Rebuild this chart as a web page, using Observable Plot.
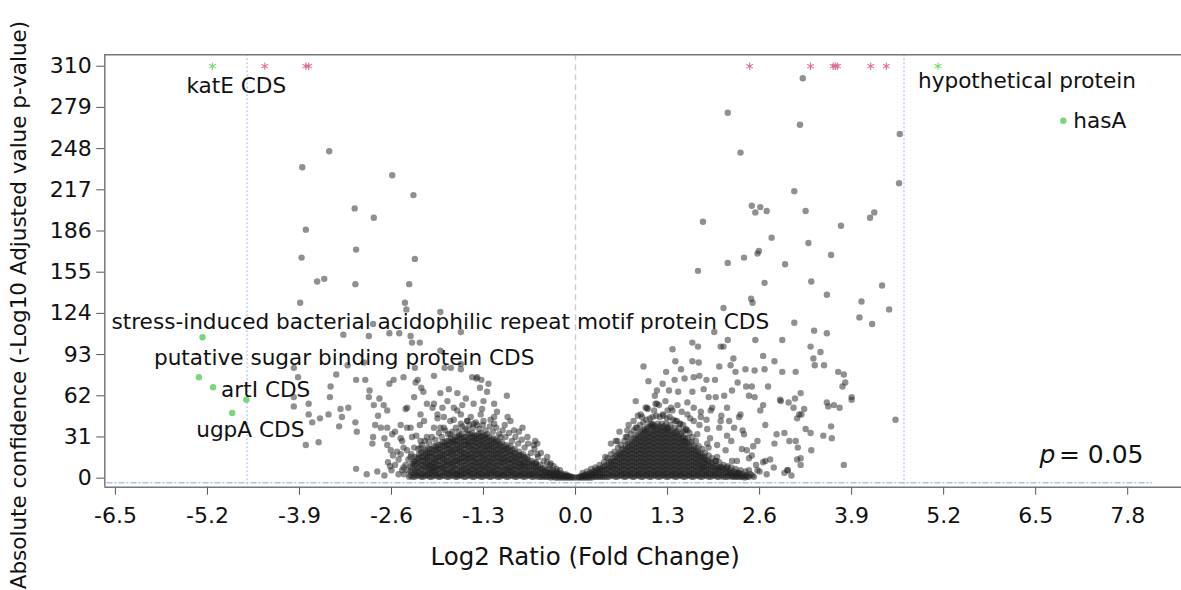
<!DOCTYPE html>
<html><head><meta charset="utf-8">
<script src="https://cdn.jsdelivr.net/npm/d3@7"></script>
<script src="https://cdn.jsdelivr.net/npm/@observablehq/plot@0.6"></script>
<style>body{margin:0;background:#fff}</style>
</head><body><div id="chart"></div>
<script>
const xTicks = [-6.5,-5.2,-3.9,-2.6,-1.3,0,1.3,2.6,3.9,5.2,6.5,7.8];
const yTicks = [0,31,62,93,124,155,186,217,248,279,310];
const xDomain = [-6.65, 8.56];
const yDomain = [-6.8, 318.6];
const foldThreshold = 4.64;
const pLine = -3.5;
const capValue = 310;
const xTitle = "Log2 Ratio (Fold Change)";
const yTitle = "Absolute confidence (-Log10 Adjusted value p-value)";

// capped (off-scale) genes, drawn as asterisks at the cap
const cappedX = [-4.39,-3.81,-3.77,2.46,3.32,3.64,3.67,3.70,4.17,4.39];

// highlighted genes
const geneNames = ["katE CDS","hypothetical protein","hasA",
  "stress-induced bacterial acidophilic repeat motif protein CDS",
  "putative sugar binding protein CDS","artI CDS","","ugpA CDS"];
const geneLfc  = [-5.13, 5.12, 6.89, -5.27, -5.32, -5.12, -4.65, -4.85];
const geneConf = [310, 310, 269, 106, 76, 68.5, 59, 49];
const geneCapped = [true, true, false, false, false, false, false, false];

// scattered genes [log2 ratio, confidence]
const scatterDown = [
[-3.48,246],[-3.86,234],[-2.59,228],[-2.29,213],[-3.12,203],[-2.85,196],[-3.81,187],[-3.87,166],[-3.10,172],[-2.27,165],[-3.65,148],[-3.55,150],[-3.11,146],[-2.35,146],
[-3.89,132],[-2.41,132],[-2.39,127],[-1.91,125],[-3.28,108],[-2.92,107],[-2.63,109],[-2.49,109],[-2.33,107],[-2.31,102],[-2.20,102],[-1.62,110],[-2.86,116],[-2.99,87],[-1.91,96],
[-3.98,83],[-3.92,76],[-3.38,78],[-3.22,85],[-3.10,74],[-2.97,74],[-2.91,66],[-3.46,69],[-3.47,61],[-2.57,74],[-2.63,71],[-2.43,76],[-2.27,83],[-2.23,74],[-2.18,68],[-2.15,65],[-2.00,77],[-1.85,83],[-1.76,83],[-1.62,86],[-1.46,76],[-1.40,75],[-1.33,74],[-1.23,71],[-1.35,68],[-1.25,65],[-0.97,62],[-1.79,67],[-1.91,64],[-1.67,64],[-1.55,60],[-3.98,61],[-2.92,61],[-2.26,72],[-2.28,61],[-2.40,52],[-1.62,82],[-1.39,76],
[-3.98,54],[-3.77,56],[-3.77,48],[-3.61,45],[-3.49,48],[-3.32,52],[-3.21,53],[-3.30,46],[-3.34,39],[-3.11,42],[-3.09,35],[-3.81,25],[-3.63,27],[-3.72,42],
[-2.85,55],[-2.77,60],[-2.71,55],[-2.79,47],[-2.66,51],[-2.83,40],[-2.75,38],[-2.66,38],[-2.86,31],[-2.87,26],[-2.59,33],[-2.47,40],[-2.47,30],[-2.38,38],[-2.43,23],[-2.31,31],[-2.28,23],[-2.14,43],[-2.10,56],[-2.02,53],[-1.95,48],[-1.88,53],[-1.81,58],[-1.72,53],[-1.44,56],[-1.32,52],[-1.15,56],[-1.11,50],[-0.92,43],[-0.75,38],[-1.15,46],[-1.30,43],[-1.44,41],[-1.62,48],[-1.53,43],[-1.77,43],[-1.86,38],[-2.00,38],[-2.10,31],[-2.19,23],[-2.10,16],[-2.00,8],[-2.33,16],[-1.67,3],[-2.47,18],[-2.61,21],[-2.66,25],[-0.59,25],[-0.35,11],[-0.54,18],[-0.57,28],
[-2.38,53],[-2.19,48],[-2.00,56],[-1.86,46],[-1.67,51],[-1.53,43],[-1.34,48],[-1.15,41],[-0.96,46],[-0.87,36],[-0.68,31],[-0.54,26],[-0.40,16],[-2.33,38],[-2.19,28],[-2.38,21],[-2.28,13],[-2.43,8],[-2.05,8],[-1.77,33],[-1.53,36],[-1.25,33],[-1.06,31],[-1.91,38],[-1.62,41],[-1.39,40],
[-2.50,3],[-2.60,6],[-2.70,2],[-2.80,5],[-2.95,3],[-3.10,7],[-2.55,10],[-2.65,12],[-2.45,6],
[-2.36,14],[-2.32,18],[-2.27,16],[-2.22,22],[-2.17,25],[-2.13,28],[-2.07,27],[-2.03,31],[-1.98,29],[-1.93,34],[-1.89,31],[-1.84,36],[-1.80,33],[-1.74,35],[-1.69,38],[-1.65,35],[-1.60,39],[-1.56,37],[-1.50,40],[-1.45,38],[-1.41,42],[-1.36,37],[-1.31,40],[-1.27,36],[-1.21,39],[-1.17,35],[-1.12,38],[-1.08,33],[-1.03,36],[-0.99,31],[-0.94,34],[-0.90,28],[-0.85,31],[-0.81,26],[-0.76,29],[-0.72,23],[-0.67,26],[-0.63,19],[-0.58,22],[-0.53,16],[-0.49,19],[-0.45,13],[-0.40,12],[-0.36,10],[-0.31,9],[-0.27,7],[-0.22,6],
[-2.40,10],[-2.42,3],[-2.37,6],[-2.35,1],[-2.50,14],[-2.58,17],[-2.52,20],[-2.62,9],
[-1.95,45],[-1.72,44],[-1.48,46],[-1.20,44],[-1.00,40],[-0.80,35],[-2.25,32],[-2.45,28],[-2.55,35],[-2.70,30],[-2.20,40],[-1.60,55],[-1.30,58]
];
const scatterUp = [
[3.21,301],[2.15,275],[3.17,266],[4.58,259],[2.33,245],[4.57,222],[3.09,216],[2.49,205],[2.61,204],[2.54,200],[2.70,201],[3.25,201],[1.80,193],[4.22,200],[4.16,196],[3.75,190],[2.77,181],[3.29,177],[2.59,171],[2.57,169],[3.61,168],[2.15,162],[2.38,166],[2.96,161],[1.73,156],[2.67,147],[3.33,148],[4.33,145],
[3.55,138],[4.04,133],[4.43,127],[4.01,121],[4.19,116],[3.37,111],[3.55,109],[3.32,99],[3.46,95],[3.36,90],[3.38,85],[3.51,85],[3.71,80],[3.79,78],[3.81,72],[3.77,69],[3.90,61],[3.90,59],[3.18,64],[3.23,52],[3.19,48],[3.55,57],[3.57,54],[3.65,55],[3.73,53],[4.52,44],[3.25,37],[3.32,34],[3.61,39],[3.50,32],[3.62,30],[3.33,21],[3.79,10],[3.18,15],[3.18,10],
[3.09,117],[2.48,135],[2.50,132],[2.09,128],[2.54,104],[2.15,104],[2.05,99],[2.09,99],[1.65,102],[1.73,99],[1.37,97],[2.23,90],[2.65,92],[2.81,88],[1.96,110],[2.92,104],[3.11,80],[2.90,58],[3.01,57],[3.11,28],[2.99,6],
[0.96,84],[1.28,80],[1.41,88],[1.49,82],[1.65,88],[1.74,87],[2.03,84],[2.19,85],[2.26,80],[2.40,82],[2.53,81],[2.67,82],[2.92,80],[1.03,73],[1.15,66],[1.23,71],[1.40,74],[1.54,75],[1.67,76],[1.75,77],[1.85,74],[1.97,74],[2.29,72],[2.41,69],[2.49,69],[2.72,69],[2.21,66],[2.45,62],[2.53,61],[2.65,55],[2.89,59],[3.10,60],[2.61,51],[3.08,53],[3.16,48],[3.13,45],[2.68,40],[2.84,33],[2.95,34],[3.02,28],[3.14,23],[3.13,14],[3.00,6],[2.81,26],[2.68,13],[2.57,6],[2.31,4],[2.49,17],[2.57,28],[2.51,24],[2.36,36],[2.14,32],[2.03,38],[2.31,46],[2.17,43],[2.06,47],[1.93,53],[2.10,62],[1.98,61],[1.81,67],[1.88,61],[1.65,65],[1.58,57],[1.77,50],[1.67,43],[1.86,37],[1.55,36],[1.41,43],[1.37,51],[1.23,48],[1.08,41],[0.94,46],[0.85,38],[0.71,31],[0.57,28],[0.42,16],[0.99,53],[1.13,56],[1.27,58],[1.32,66],[1.98,13],[2.12,21],[1.88,23],[2.21,13],[1.79,8],[2.07,8],
[1.01,53],[1.15,56],[1.30,51],[1.44,55],[1.58,48],[1.67,53],[1.77,46],[1.91,51],[2.05,43],[2.14,53],[2.24,38],[2.33,48],[2.38,33],[2.42,21],[2.28,13],[2.14,8],[2.00,16],[1.86,26],[1.72,33],[1.58,36],[0.82,43],[0.73,36],[0.59,28],[0.92,48],[1.06,41],[1.30,38],[1.48,41],[1.11,51],
[2.50,2],[2.60,5],[2.70,3],[2.80,8],[2.95,4],[3.05,2],[2.55,10],[2.65,12],[2.45,6],[2.75,14],
[0.10,4],[0.16,5],[0.22,7],[0.28,8],[0.34,10],[0.40,12],[0.45,15],[0.50,18],[0.55,20],[0.60,23],[0.64,25],[0.69,28],[0.73,31],[0.78,33],[0.82,36],[0.87,38],[0.91,40],[0.96,42],[1.00,44],[1.05,45],[1.09,46],[1.14,47],[1.19,46],[1.24,47],[1.29,45],[1.33,46],[1.38,44],[1.43,43],[1.47,41],[1.52,40],[1.56,37],[1.61,34],[1.65,31],[1.70,28],[1.74,24],[1.79,22],[1.83,19],[1.88,17],[1.93,15],[1.98,13],[2.03,12],[2.09,10],[2.15,9],[2.20,8],[2.26,7],[2.33,6],[2.40,5],[2.47,3],[2.52,1],
[0.75,40],[0.88,47],[1.02,52],[1.18,55],[1.35,53],[1.50,50],[1.62,45],[1.75,40],[1.90,30],[2.00,25],[0.62,35],[0.50,26],[1.12,62],[1.45,65],[0.85,58],[1.55,28],[1.85,44],[2.20,28],[2.35,22],[2.45,15]
];

// dense core of the volcano, column by column: [log2 ratio, [confidences]]
const coreDown = [
[-2.30,[1,4,8,11]],[-2.24,[2,5,7,11,15]],[-2.18,[1,3,7,10,13,16,19]],[-2.12,[2,5,9,11,14,18,21]],
[-2.06,[1,4,6,10,13,17,19,22]],[-2.00,[2,5,8,12,14,17,21,24]],[-1.94,[1,3,7,10,13,16,20,22,25]],
[-1.88,[2,5,8,11,15,17,20,24,27]],[-1.82,[1,4,6,10,13,16,19,23,25,28]],[-1.76,[2,5,8,11,14,18,20,23,27,30]],
[-1.70,[1,3,7,10,13,16,19,22,26,28,31]],[-1.64,[2,5,8,12,14,17,21,23,26,30,32]],[-1.58,[1,4,7,9,13,16,19,22,25,28,31]],
[-1.52,[2,5,8,11,15,17,20,24,26,29,33]],[-1.46,[1,3,7,10,13,16,19,22,25,28,31,34]],[-1.40,[2,5,8,11,14,18,20,23,27,29,32]],
[-1.34,[1,4,7,10,12,16,19,22,25,28,31,34]],[-1.28,[2,5,8,11,14,17,21,23,26,30,32]],[-1.22,[1,4,6,10,13,16,19,22,25,28,31]],
[-1.16,[2,5,8,11,15,17,20,23,27,30]],[-1.10,[1,3,7,10,13,16,19,22,25,28]],[-1.04,[2,5,8,12,14,17,21,23,27]],
[-0.98,[1,4,7,9,13,16,19,22,25]],[-0.92,[2,5,8,11,14,18,20,24]],[-0.86,[1,3,7,10,13,16,19,22]],
[-0.80,[2,5,8,11,14,17,20]],[-0.74,[1,4,7,10,12,16,18]],[-0.68,[2,5,8,11,14,16]],[-0.62,[1,3,6,10,13]],
[-0.56,[2,5,8,11,12]],[-0.50,[1,4,7,10]],[-0.44,[1,3,5,8]],[-0.38,[1,3,4,7]],[-0.32,[1,2,4,6]],
[-0.26,[0.5,2,4,5]],[-0.20,[0.5,2,3.5]],[-0.14,[0.5,1.5,3]],[-0.08,[0.5,1.5]],[-0.02,[0.5]]
];
const coreDown2 = [
[-2.33,[2,5,9]],[-2.27,[1,3,6,10,12]],[-2.21,[2,4,8,12,15,18]],[-2.15,[1,3,6,9,13,16,20]],
[-2.09,[2,3,7,9,12,15,19,23]],[-2.03,[1,3,6,10,12,16,19,22]],[-1.97,[2,4,6,9,12,15,18,21,24]],
[-1.91,[1,3,7,9,13,16,18,22,25]],[-1.85,[2,4,7,9,12,14,18,21,24,27]],[-1.79,[1,3,6,10,12,16,19,22,25,28]],
[-1.73,[2,4,6,9,12,15,18,21,24,27,29]],[-1.67,[1,3,6,10,13,15,19,22,25,28,31]],[-1.61,[2,3,6,9,12,15,18,20,24,27,30,33]],
[-1.55,[1,4,6,10,13,15,18,22,25,28,31]],[-1.49,[2,4,6,9,12,15,18,21,24,27,30,33]],[-1.43,[1,4,6,9,12,15,17,21,24,27,30,32]],
[-1.37,[2,3,6,9,12,15,18,21,24,26,30,33]],[-1.31,[1,3,6,9,13,15,18,20,24,27,29,32]],[-1.25,[2,3,7,9,12,15,18,21,24,27,30]],
[-1.19,[1,4,6,9,12,14,18,21,24,26,29]],[-1.13,[2,4,6,9,12,15,18,21,24,27,29]],[-1.07,[1,3,6,9,12,15,18,20,24,26]],
[-1.01,[2,3,6,10,12,15,18,21,24]],[-0.95,[1,3,6,8,12,14,17,21,23]],[-0.89,[2,4,6,9,12,15,17,21]],
[-0.83,[1,3,6,9,12,15,18]],[-0.77,[2,3,6,9,11,14,17]],[-0.71,[1,3,6,9,12,15]],[-0.65,[2,3,6,9,12]],
[-0.59,[1,3,6,9,11]],[-0.53,[1,3,6,9]],[-0.47,[1,2,5,7]],[-0.41,[1,2,4,6]],[-0.35,[0.5,2,3,5]],
[-0.29,[0.5,2,3,4]],[-0.23,[0.5,1.5,3]],[-0.17,[0.5,1.5,2.5]],[-0.11,[0.5,1.5,2]],[-0.05,[0.5,1]]
];
const coreUp = [
[0.02,[0.5]],[0.08,[0.5,1.5]],[0.14,[0.5,1.5,2.5]],[0.20,[0.5,2,3.5]],[0.26,[1,3,5]],[0.32,[1,3,5,7]],
[0.38,[1,3,6,8]],[0.44,[1,4,7,10]],[0.50,[2,5,8,11,13]],[0.56,[1,4,7,10,13,16]],[0.62,[2,5,8,11,14,17,19]],
[0.68,[1,4,7,10,13,16,19,22]],[0.74,[2,5,8,11,14,17,20,23,26]],[0.80,[1,4,7,10,13,16,19,22,25,29]],
[0.86,[2,5,8,11,14,17,20,23,26,29,32]],[0.92,[1,4,7,10,13,16,19,22,25,28,31,35]],
[0.98,[2,5,8,11,14,17,20,23,26,29,32,35,37]],[1.04,[1,4,7,10,13,16,19,22,25,28,31,34,39]],
[1.10,[2,5,8,11,14,17,20,23,26,29,32,35,38,40]],[1.16,[1,4,7,10,13,16,19,22,25,28,31,34,37,41]],
[1.22,[2,5,8,11,14,17,20,23,26,29,32,35,38,41]],[1.28,[1,4,7,10,13,16,19,22,25,28,31,34,37,41]],
[1.34,[2,5,8,11,14,17,20,23,26,29,32,35,40]],[1.40,[1,4,7,10,13,16,19,22,25,28,31,34,38]],
[1.46,[2,5,8,11,14,17,20,23,26,29,32,37]],[1.52,[1,4,7,10,13,16,19,22,25,28,31,35]],
[1.58,[2,5,8,11,14,17,20,23,26,30]],[1.64,[1,4,7,10,13,16,19,22,27]],[1.70,[2,5,8,11,14,17,20,23]],
[1.76,[1,4,7,10,13,16,19]],[1.82,[2,5,8,11,14,16]],[1.88,[1,4,7,10,13]],[1.94,[2,5,8,11]],
[2.00,[1,4,7,9]],[2.06,[2,5,8]],[2.12,[1,4,7]],[2.18,[2,4,6]],[2.24,[1,3,5]],[2.30,[1,3,4]],[2.36,[1,3]],[2.42,[1,2]]
];
const coreUp2 = [
[0.05,[0.5,1]],[0.11,[0.5,1.5,2]],[0.17,[0.5,1.5,3]],[0.23,[0.5,2,3,4.5]],[0.29,[1,2,4,6]],[0.35,[1,2,5,7]],
[0.41,[1,3,6,9]],[0.47,[1,3,6,9,12]],[0.53,[2,3,7,9,12,15]],[0.59,[1,3,6,9,12,15,18]],[0.65,[2,3,6,9,12,15,18,21]],
[0.71,[1,3,6,9,12,15,18,21,24]],[0.77,[2,3,6,9,12,15,18,21,24,27]],[0.83,[1,3,6,9,12,15,18,21,24,27,30]],
[0.89,[2,3,6,9,12,15,18,21,24,27,30,33]],[0.95,[1,3,6,9,12,15,18,21,24,27,30,33,36]],
[1.01,[2,3,6,9,12,15,18,21,24,27,30,33,36,38]],[1.07,[1,3,6,9,12,15,18,21,24,27,30,33,36,39]],
[1.13,[2,3,6,9,12,15,18,21,24,27,30,33,36,39]],[1.19,[1,3,6,9,12,15,18,21,24,27,30,33,36,39]],
[1.25,[2,3,6,9,12,15,18,21,24,27,30,33,36,39]],[1.31,[1,3,6,9,12,15,18,21,24,27,30,33,36,38]],
[1.37,[2,3,6,9,12,15,18,21,24,27,30,33,36]],[1.43,[1,3,6,9,12,15,18,21,24,27,30,33,35]],
[1.49,[2,3,6,9,12,15,18,21,24,27,30,33]],[1.55,[1,3,6,9,12,15,18,21,24,27,30]],
[1.61,[2,3,6,9,12,15,18,21,24,27]],[1.67,[1,3,6,9,12,15,18,21,24]],[1.73,[2,3,6,9,12,15,18,20]],
[1.79,[1,3,6,9,12,15,17]],[1.85,[2,3,6,9,12,14]],[1.91,[1,3,6,9,12]],[1.97,[2,3,6,9]],
[2.03,[1,3,6,8]],[2.09,[1,3,6]],[2.15,[1,3,5]],[2.21,[1,2,4]],[2.27,[1,2,4]],[2.33,[1,2]],[2.39,[0.5,2]],[2.45,[1]]
];

const fromColumns = cols => cols.flatMap(([x, ys]) => ys.map(y => ({x, y})));
const grayPoints = [
  ...fromColumns(coreDown), ...fromColumns(coreDown2),
  ...fromColumns(coreUp), ...fromColumns(coreUp2),
  ...scatterDown.map(([x, y]) => ({x, y})),
  ...scatterUp.map(([x, y]) => ({x, y}))
];
const genes = geneNames.map((name, i) => ({name, x: geneLfc[i], y: geneConf[i], capped: geneCapped[i]}));
const capped = cappedX.map(x => ({x, y: capValue}));

const font = "DejaVu Sans";
const labelStyle = {fontSize: 21.6, fill: "#111", textAnchor: "start", lineAnchor: "middle"};
function geneLabel(i, dx, dy) {
  return Plot.text([genes[i]], {x: "x", y: "y", text: "name", dx, dy, ...labelStyle});
}

const chart = Plot.plot({
  width: 1181, height: 590,
  marginLeft: 104.3, marginRight: 0, marginTop: 54.3, marginBottom: 103.3,
  style: {fontFamily: font, background: "#fff", color: "#111", overflow: "visible"},
  x: {domain: xDomain, ticks: xTicks, tickFormat: d => d.toFixed(1), tickSize: 8, tickPadding: 12, label: null},
  y: {domain: yDomain, ticks: yTicks, tickFormat: d => String(d), tickSize: 8, tickPadding: 5, label: null},
  marks: [
    Plot.ruleX([0], {stroke: "#d2c8cc", strokeWidth: 1.3, strokeDasharray: "6,4"}),
    Plot.ruleX([-foldThreshold, foldThreshold], {stroke: "#a9c3e0", strokeWidth: 1.2, strokeDasharray: "2,2"}),
    Plot.ruleY([pLine], {x1: -6.62, x2: 8.15, stroke: "#a9c3e0", strokeWidth: 1.5, strokeDasharray: "6,2,2,2"}),
    Plot.ruleY([yDomain[1]], {stroke: "#777", strokeWidth: 1.5}),
    Plot.ruleY([yDomain[0]], {stroke: "#777", strokeWidth: 1.5}),
    Plot.ruleX([xDomain[0]], {stroke: "#777", strokeWidth: 1.5}),
    Plot.dot(grayPoints, {x: "x", y: "y", r: 3.2, fill: "#222", fillOpacity: 0.5, stroke: "none"}),
    Plot.dot(capped, {x: "x", y: "y", symbol: "asterisk", r: 3.6, stroke: "#e0709a", strokeWidth: 1.1}),
    Plot.dot(genes.filter(d => d.capped), {x: "x", y: "y", symbol: "asterisk", r: 3.6, stroke: "#72d872", strokeWidth: 1.1}),
    Plot.dot(genes.filter(d => !d.capped), {x: "x", y: "y", r: 3.2, fill: "#78d878", stroke: "none"}),
    geneLabel(0, -26, 20),
    geneLabel(1, -20, 15),
    geneLabel(2, 10, 0),
    geneLabel(3, -91, -15),
    geneLabel(4, -45, -19),
    geneLabel(5, 8, 3),
    geneLabel(7, -36, 17),
    Plot.text(["p"], {frameAnchor: "bottom-right", dx: -142, dy: -32, fontSize: 25, fontStyle: "italic", textAnchor: "start", lineAnchor: "middle", fill: "#111"}),
    Plot.text(["= 0.05"], {frameAnchor: "bottom-right", dx: -38, dy: -32, fontSize: 25, textAnchor: "end", lineAnchor: "middle", fill: "#111"}),
    Plot.text([xTitle], {frameAnchor: "bottom", dx: -58, dy: 70, fontSize: 24.5, textAnchor: "middle", lineAnchor: "middle", fill: "#111"}),
    Plot.text([yTitle], {frameAnchor: "left", dx: -86, dy: 34, rotate: -90, fontSize: 21.5, textAnchor: "middle", lineAnchor: "middle", fill: "#111"})
  ]
});
chart.querySelectorAll('[aria-label="x-axis tick label"], [aria-label="y-axis tick label"]').forEach(g => g.setAttribute("font-size", 22));
chart.querySelectorAll('[aria-label="x-axis tick"], [aria-label="y-axis tick"]').forEach(g => g.setAttribute("stroke", "#555"));
document.getElementById("chart").appendChild(chart);
</script>
</body></html>
